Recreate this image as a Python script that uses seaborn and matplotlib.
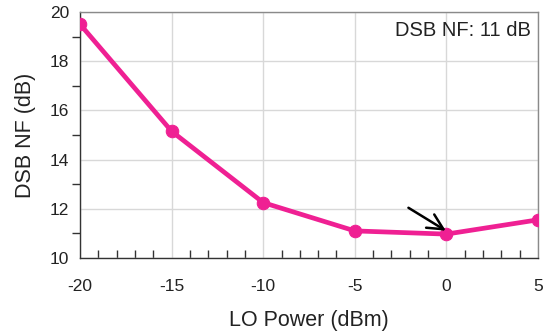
import matplotlib
matplotlib.use('Agg')
import matplotlib.pyplot as plt
import seaborn as sns
import pandas as pd
from matplotlib.ticker import MultipleLocator

# data
lo_power = [-20, -15, -10, -5, 0, 5]
dsb_nf = [19.5, 15.15, 12.25, 11.1, 10.97, 11.55]

df = pd.DataFrame({'LO Power (dBm)': lo_power, 'DSB NF (dB)': dsb_nf})

sns.set_style('white')
plt.rcParams['font.family'] = ['Liberation Sans', 'DejaVu Sans']
plt.rcParams['axes.unicode_minus'] = False

fig = plt.figure(figsize=(5.45, 3.35), dpi=100)
ax = fig.add_axes([0.147, 0.230, 0.840, 0.734])

pink = '#EF2093'
sns.lineplot(data=df, x='LO Power (dBm)', y='DSB NF (dB)', ax=ax,
             color=pink, linewidth=3.4, marker='o', markersize=9,
             markeredgecolor=pink, zorder=3)

ax.set_xlim(-20, 5)
ax.set_ylim(10, 20)
ax.xaxis.set_major_locator(MultipleLocator(5))
ax.xaxis.set_minor_locator(MultipleLocator(1))
ax.yaxis.set_major_locator(MultipleLocator(2))
ax.yaxis.set_minor_locator(MultipleLocator(1))

ax.grid(True, which='major', color='#d8d8d8', linewidth=1.0)
for s in ['top', 'right']:
    ax.spines[s].set_color('#8a8a8a')
    ax.spines[s].set_linewidth(1.0)
for s in ['left', 'bottom']:
    ax.spines[s].set_color('#333333')
    ax.spines[s].set_linewidth(1.0)

ax.tick_params(axis='x', which='major', direction='out', length=6, width=1,
               color='#333333', labelsize=12.5, pad=9, labelcolor='#222222')
ax.tick_params(axis='x', which='minor', direction='in', length=6, width=1,
               color='#333333', bottom=True)
ax.tick_params(axis='y', which='major', direction='out', length=6, width=1,
               color='#333333', labelsize=12.5, pad=2, labelcolor='#222222')
ax.tick_params(axis='y', which='minor', direction='out', length=6, width=1,
               color='#333333', left=True)

ax.set_xlabel('LO Power (dBm)', fontsize=15.5, labelpad=12, color='#222222')
ax.set_ylabel('DSB NF (dB)', fontsize=15.5, labelpad=10, color='#222222')

ax.text(0.985, 0.965, 'DSB NF: 11 dB', transform=ax.transAxes,
        ha='right', va='top', fontsize=14.5, color='#222222')

ax.annotate('', xy=(0.1, 11.05), xytext=(-2.2, 12.1),
            arrowprops=dict(arrowstyle='->', color='black', lw=1.8,
                            mutation_scale=28))

fig.savefig('out.png', dpi=100)
